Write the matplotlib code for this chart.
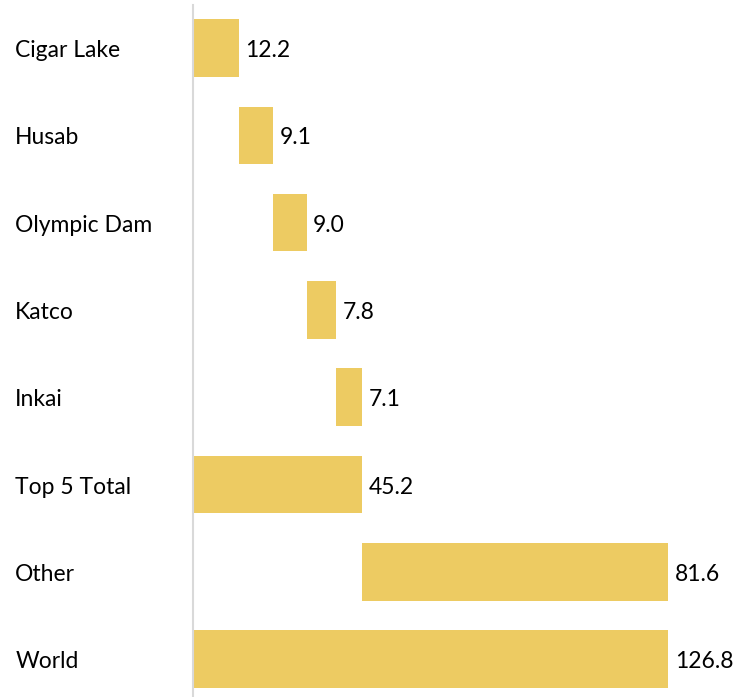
import matplotlib.pyplot as plt
import matplotlib

matplotlib.rcParams['font.family'] = ['Lato', 'DejaVu Sans']

# data
labels = ['Cigar Lake', 'Husab', 'Olympic Dam', 'Katco', 'Inkai', 'Top 5 Total', 'Other', 'World']
values = [12.2, 9.1, 9.0, 7.8, 7.1, 45.2, 81.6, 126.8]
is_total = [False, False, False, False, False, True, False, True]

# waterfall starts
starts = []
run = 0.0
for v, tot in zip(values, is_total):
    if tot:
        starts.append(0.0)
        run = v
    else:
        starts.append(run)
        run += v

fig = plt.figure(figsize=(7.35, 6.97), dpi=100)
W, H = 735, 697
ax = fig.add_axes([193 / W, 0, (W - 193) / W, 692 / H])

color = '#EDCB62'
ypos = list(range(len(labels)))
ax.barh(ypos, values, left=starts, height=0.66, color=color)

for y, s, v, lab in zip(ypos, starts, values, labels):
    ax.text(s + v + 1.8, y + 0.03, f'{v:.1f}', va='center', ha='left', fontsize=16.5)
    ax.text(-0.328, y + 0.03, lab, va='center', ha='left', fontsize=16.5,
            transform=ax.get_yaxis_transform())

ax.set_xlim(0, (W - 193) / 3.746)
ax.set_ylim(-0.493 + 692 / 87.3, -0.493)
ax.set_xticks([])
ax.set_yticks([])
for sp in ['top', 'right', 'bottom']:
    ax.spines[sp].set_visible(False)
ax.spines['left'].set_color('#D9D9D9')
ax.spines['left'].set_linewidth(1.5)

fig.savefig('out.png', dpi=100)
